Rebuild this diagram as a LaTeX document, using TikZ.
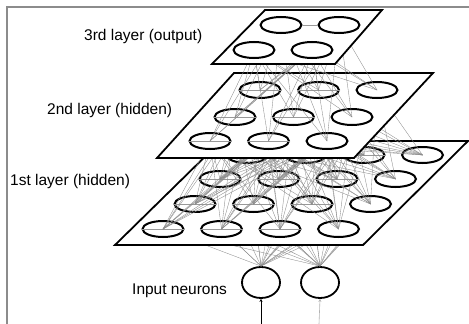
\documentclass[tikz,border=0pt]{standalone}
\usepackage{fontspec}
\newfontfamily\labelfont{Liberation Sans}
\usetikzlibrary{shapes.geometric,arrows.meta}

\tikzset{
  neuron/.style={ellipse, draw=black, line width=2pt, minimum width=41pt,
                 minimum height=16pt, inner sep=0pt},
  inneuron/.style={ellipse, draw=black, line width=1.8pt, minimum width=38pt,
                 minimum height=31pt, inner sep=0pt},
  plane/.style={draw=black, fill=white, line width=1.8pt, line join=miter},
  link/.style={draw=black!45, line width=0.35pt},
  lateral/.style={draw=black!40, line width=0.9pt},
  feed/.style={draw=black, line width=0.6pt, -{Stealth[length=3pt,width=3pt]}},
  frameline/.style={draw=black!45, line width=1.3pt},
  label/.style={inner sep=0pt, anchor=base west, font=\labelfont\fontsize{15.5}{18}\selectfont}
}

\begin{document}
\begin{tikzpicture}[x=1pt, y=-1pt]
\useasboundingbox (0,0) rectangle (469,324);

% frame
\draw[frameline] (469,7) -- (7,7) -- (7,324);

% input neurons and their feeds
\node[inneuron] (in1) at (261,282.5) {};
\node[inneuron] (in2) at (320,282.5) {};
\coordinate (src1) at (261,324);
\coordinate (src2) at (319,324);
\draw[feed] (src1) -- (in1.south);
\draw[feed, draw=black!30] (src2) -- (in2.south);

% first hidden layer positions (row 1 = front)
\foreach \r/\y/\xs in {1/229/163, 2/204/195, 3/179/220, 4/155/247}
  \foreach \c in {1,...,4}
    \coordinate (p-\r-\c) at ({\xs+58.5*(\c-1)}, \y);

% input -> first layer
\foreach \i in {1,2}
  \foreach \r in {1,...,4}
    \foreach \c in {1,...,4}
      \draw[link] (in\i.north) -- (p-\r-\c);

% first layer plane
\draw[plane] (115,245) -- (363,245) -- (468,141) -- (221,141) -- cycle;
\foreach \r in {1,...,4}
  \foreach \c in {1,...,4}
    \node[neuron] (a-\r-\c) at (p-\r-\c) {};
\foreach \r in {1,...,4}
  \foreach \c [evaluate=\c as \cc using int(\c+1)] in {1,2,3}
    \draw[lateral] (a-\r-\c.east) -- (a-\r-\cc.west);

% second layer positions
\foreach \r/\y/\xs in {1/141/210, 2/117/235, 3/90/260}
  \foreach \c in {1,...,3}
    \coordinate (q-\r-\c) at ({\xs+58.5*(\c-1)}, \y);

% first -> second layer
\foreach \r in {1,...,4}
  \foreach \c in {1,...,4}
    \foreach \s in {1,...,3}
      \foreach \t in {1,...,3}
        \draw[link] (a-\r-\c.center) -- (q-\s-\t);

% second layer plane
\draw[plane] (157,158) -- (354,158) -- (433,73) -- (234,73) -- cycle;
\foreach \r in {1,...,3}
  \foreach \c in {1,...,3}
    \node[neuron] (b-\r-\c) at (q-\r-\c) {};
\foreach \r in {1,...,3}
  \foreach \c [evaluate=\c as \cc using int(\c+1)] in {1,2}
    \draw[lateral] (b-\r-\c.east) -- (b-\r-\cc.west);

% output layer positions
\foreach \r/\y/\xs in {1/50/254, 2/25/281}
  \foreach \c in {1,2}
    \coordinate (o-\r-\c) at ({\xs+58*(\c-1)}, \y);

% second -> output layer
\foreach \r in {1,...,3}
  \foreach \c in {1,...,3}
    \foreach \s in {1,2}
      \foreach \t in {1,2}
        \draw[link] (b-\r-\c.center) -- (o-\s-\t);

% output layer plane
\draw[plane] (212,64) -- (335,64) -- (382,10) -- (265,10) -- cycle;
\foreach \r in {1,2}
  \foreach \c in {1,2}
    \node[neuron] (c-\r-\c) at (o-\r-\c) {};
\draw[lateral] (c-2-1.east) -- (c-2-2.west);

% labels
\node[label] (t3) at (84,40) {3rd layer (output)};
\node[label] (t2) at (47,114) {2nd layer (hidden)};
\node[label] (t1) at (10,185) {1st layer (hidden)};
\node[label] (t0) at (132,294) {Input neurons};
\end{tikzpicture}
\end{document}
